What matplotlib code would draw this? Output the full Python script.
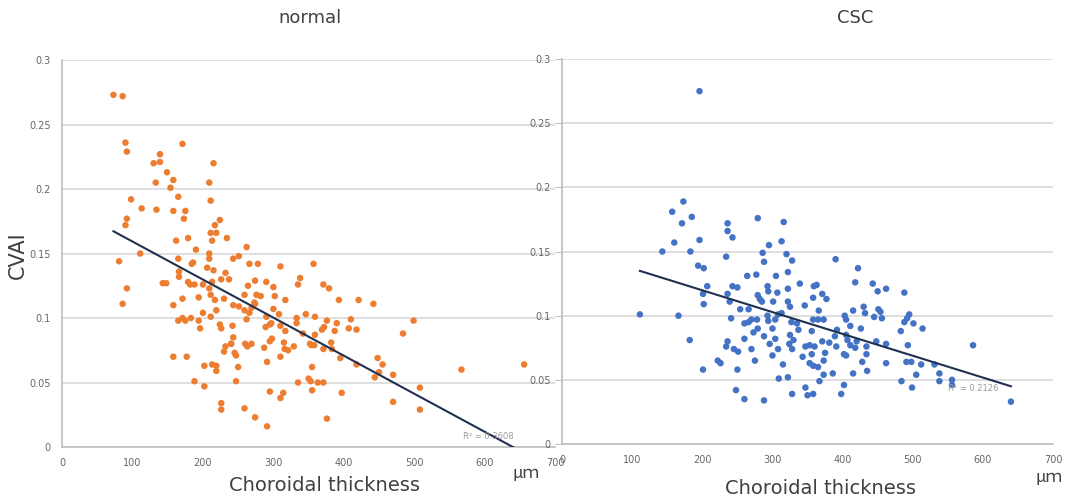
import matplotlib
matplotlib.use("Agg")
import matplotlib.pyplot as plt
import numpy as np

# choroidal thickness (um) vs CVAI, normal eyes
normal_thick = [73, 86, 90, 92, 171, 139, 130, 139, 215, 149, 158, 133, 154, 209, 165, 98, 211,
                113, 134, 158, 175, 173, 92, 90, 217, 224, 211, 219, 213, 234, 162, 179, 190,
                111, 81, 165, 209, 209, 184, 186, 206, 215, 166, 166, 232, 226, 237, 143, 148,
                179, 182, 188, 200, 209, 213, 92, 211, 194, 171, 217, 230, 86, 158, 219, 200,
                211, 165, 171, 175, 183, 194, 196, 224, 226, 240, 232, 230, 158, 177, 202, 213,
                219, 219, 188, 202, 226, 226,
                262, 251, 243, 266, 278, 310, 357, 274, 264, 290, 300, 338, 335, 371, 379, 259,
                276, 282, 302, 317, 393, 421, 442, 243, 251, 273, 274, 269, 259, 266, 262, 300,
                308, 290, 346, 333, 333, 359, 376, 410, 372, 369, 390, 407, 418, 242, 295, 297,
                289, 310, 317, 342, 359, 387, 243, 240, 245, 247, 260, 263, 269, 295, 298, 287,
                315, 329, 316, 321, 352, 354, 358, 371, 382, 383, 395, 310, 291, 250, 355, 418,
                448, 455, 450, 444, 247, 335, 350, 353, 363, 371, 355, 295, 314, 310, 397, 470,
                470, 259, 274, 291, 376,
                499, 484, 567, 656, 508, 508]
normal_cvai = [0.273, 0.272, 0.236, 0.229, 0.235, 0.227, 0.220, 0.221, 0.220, 0.213, 0.207, 0.205,
               0.201, 0.205, 0.194, 0.192, 0.191, 0.185, 0.184, 0.183, 0.183, 0.177, 0.177, 0.172,
               0.172, 0.176, 0.166, 0.166, 0.160, 0.162, 0.160, 0.162, 0.153, 0.150, 0.144, 0.146,
               0.150, 0.146, 0.142, 0.143, 0.139, 0.137, 0.136, 0.132, 0.135, 0.130, 0.130, 0.127,
               0.127, 0.128, 0.126, 0.126, 0.126, 0.123, 0.128, 0.123, 0.118, 0.116, 0.115, 0.114,
               0.115, 0.111, 0.110, 0.106, 0.104, 0.101, 0.098, 0.100, 0.098, 0.100, 0.098, 0.092,
               0.095, 0.092, 0.080, 0.078, 0.074, 0.070, 0.070, 0.063, 0.064, 0.063, 0.059, 0.051,
               0.047, 0.034, 0.029,
               0.155, 0.148, 0.146, 0.142, 0.142, 0.140, 0.142, 0.129, 0.125, 0.128, 0.124, 0.131,
               0.126, 0.126, 0.123, 0.118, 0.118, 0.117, 0.117, 0.114, 0.114, 0.114, 0.111, 0.110,
               0.109, 0.112, 0.111, 0.108, 0.106, 0.104, 0.099, 0.107, 0.103, 0.101, 0.103, 0.100,
               0.096, 0.101, 0.098, 0.099, 0.093, 0.091, 0.096, 0.092, 0.091, 0.094, 0.095, 0.096,
               0.093, 0.094, 0.090, 0.088, 0.087, 0.090, 0.085, 0.080, 0.073, 0.071, 0.080, 0.078,
               0.080, 0.082, 0.084, 0.077, 0.081, 0.078, 0.076, 0.075, 0.080, 0.079, 0.079, 0.076,
               0.081, 0.076, 0.069, 0.070, 0.066, 0.062, 0.062, 0.064, 0.069, 0.064, 0.058, 0.054,
               0.051, 0.050, 0.053, 0.051, 0.050, 0.050, 0.044, 0.043, 0.042, 0.038, 0.042, 0.056,
               0.035, 0.030, 0.023, 0.016, 0.022,
               0.098, 0.088, 0.060, 0.064, 0.046, 0.029]

# CSC eyes
csc_thick = [196, 173, 157, 185, 279, 171, 236, 236, 243, 160, 196, 295, 143, 183, 286, 234, 288,
             194, 202, 264, 277, 207, 243, 250, 293, 294, 201, 236, 279, 282, 285, 202, 239, 254,
             266, 111, 166, 241, 260, 266, 270, 278, 293, 294, 279, 273, 288, 260, 182, 236, 234,
             245, 251, 270, 275, 222, 226, 201, 250, 248, 260, 288,
             316, 313, 320, 328, 390, 422, 305, 322, 339, 359, 363, 418, 443, 322, 307, 371, 377,
             450, 462, 488, 358, 301, 322, 325, 346, 366, 430, 451, 454, 415, 432, 445, 456, 495,
             492, 403, 405, 358, 365, 373, 308, 313, 304, 327, 335, 300, 337, 411, 426, 488, 501,
             483, 392, 389, 356, 325, 330, 304, 296, 308, 324, 328, 347, 353, 360, 371, 381, 391,
             405, 407, 411, 418, 420, 434, 448, 462, 493, 375, 343, 356, 402, 405, 434, 300, 373,
             315, 353, 358, 365, 428, 435, 462, 491, 498, 415, 386, 373, 309, 322, 367, 402, 484,
             499, 347, 328, 350, 358, 398,
             514, 586, 512, 531, 505, 538, 538, 556, 556, 640]
csc_cvai = [0.275, 0.189, 0.181, 0.177, 0.176, 0.172, 0.172, 0.166, 0.161, 0.157, 0.159, 0.155,
            0.150, 0.150, 0.149, 0.146, 0.142, 0.139, 0.137, 0.131, 0.132, 0.123, 0.123, 0.122,
            0.123, 0.119, 0.117, 0.117, 0.116, 0.113, 0.111, 0.109, 0.111, 0.105, 0.105, 0.101,
            0.100, 0.098, 0.094, 0.095, 0.097, 0.097, 0.100, 0.096, 0.090, 0.087, 0.084, 0.082,
            0.081, 0.080, 0.076, 0.074, 0.072, 0.074, 0.065, 0.065, 0.063, 0.058, 0.058, 0.042,
            0.035, 0.034,
            0.173, 0.158, 0.148, 0.143, 0.144, 0.137, 0.131, 0.134, 0.125, 0.123, 0.124, 0.126,
            0.125, 0.121, 0.118, 0.117, 0.113, 0.119, 0.121, 0.118, 0.114, 0.111, 0.111, 0.107,
            0.108, 0.104, 0.107, 0.105, 0.103, 0.104, 0.102, 0.099, 0.098, 0.101, 0.098, 0.100,
            0.097, 0.097, 0.097, 0.097, 0.101, 0.102, 0.097, 0.095, 0.094, 0.090, 0.089, 0.092,
            0.090, 0.095, 0.094, 0.088, 0.089, 0.084, 0.088, 0.085, 0.081, 0.082, 0.078, 0.074,
            0.078, 0.074, 0.076, 0.077, 0.076, 0.080, 0.079, 0.076, 0.085, 0.081, 0.077, 0.075,
            0.080, 0.076, 0.080, 0.078, 0.077, 0.071, 0.068, 0.070, 0.070, 0.069, 0.070, 0.069,
            0.065, 0.062, 0.063, 0.061, 0.060, 0.064, 0.057, 0.063, 0.064, 0.064, 0.055, 0.055,
            0.054, 0.051, 0.052, 0.049, 0.046, 0.049, 0.044, 0.044, 0.039, 0.038, 0.039, 0.039,
            0.090, 0.077, 0.062, 0.062, 0.054, 0.055, 0.049, 0.050, 0.046, 0.033]

# linear trendlines (slope, intercept) and their R^2
normal_fit = (-0.000295, 0.1888)
csc_fit = (-0.000170, 0.1538)
normal_r2 = "0.3608"
csc_r2 = "0.2126"

x_ticks = [0, 100, 200, 300, 400, 500, 600, 700]
y_ticks = [0, 0.05, 0.1, 0.15, 0.2, 0.25, 0.3]
y_labels = ["0", "0.05", "0.1", "0.15", "0.2", "0.25", "0.3"]

GRID = "#d9d9d9"

fig = plt.figure(figsize=(10.79, 4.98), dpi=100)
ax1 = fig.add_axes([0.0575, 0.1024, 0.457, 0.777])
ax2 = fig.add_axes([0.5209, 0.1084, 0.455, 0.773])


def style(ax, tick_len):
    ax.set_xlim(0, 700)
    ax.set_ylim(0, 0.3)
    ax.set_xticks(x_ticks)
    ax.set_xticklabels([str(t) for t in x_ticks])
    ax.set_yticks(y_ticks)
    ax.set_yticklabels(y_labels)
    ax.grid(axis="y", color=GRID, linewidth=1.2)
    ax.set_axisbelow(True)
    for s in ["top", "right"]:
        ax.spines[s].set_visible(False)
    for s in ["left", "bottom"]:
        ax.spines[s].set_color("#bfbfbf")
        ax.spines[s].set_linewidth(1.2)
    ax.tick_params(axis="x", length=0, pad=8, labelsize=7, labelcolor="#666666")
    ax.tick_params(axis="y", length=tick_len, color="#bfbfbf", pad=8 - tick_len,
                   labelsize=7, labelcolor="#666666")


def draw(ax, xs, ys, color, fit, r2, r2_pos):
    ax.scatter(xs, ys, s=22, color=color, edgecolors="none", zorder=3)
    xx = np.array([min(xs), max(xs)])
    ax.plot(xx, fit[0] * xx + fit[1], color="#1f3050", linewidth=1.5, zorder=4)
    ax.text(r2_pos[0], r2_pos[1], "R² = " + r2, fontsize=6, color="#9a9a9a",
            ha="center", va="center", zorder=5)


style(ax1, 0)
style(ax2, 5)
draw(ax1, normal_thick, normal_cvai, "#ed7d31", normal_fit, normal_r2, (605, 0.008))
draw(ax2, csc_thick, csc_cvai, "#4472c4", csc_fit, csc_r2, (586, 0.043))

fig.text(0.287, 0.963, "normal", fontsize=13, color="#404040", ha="center", va="center")
fig.text(0.793, 0.963, "CSC", fontsize=13, color="#404040", ha="center", va="center")
fig.text(0.017, 0.487, "CVAI", fontsize=15, color="#404040", rotation=90,
         ha="center", va="center")
fig.text(0.301, 0.026, "Choroidal thickness", fontsize=14, color="#404040",
         ha="center", va="center")
fig.text(0.760, 0.020, "Choroidal thickness", fontsize=14, color="#404040",
         ha="center", va="center")
unit_font = ["Noto Sans CJK JP", "DejaVu Sans"]
fig.text(0.4875, 0.050, "μｍ", fontsize=12, color="#404040", ha="center", va="center",
         family=unit_font)
fig.text(0.972, 0.042, "μｍ", fontsize=12, color="#404040", ha="center", va="center",
         family=unit_font)

fig.savefig("out.png", dpi=100)
